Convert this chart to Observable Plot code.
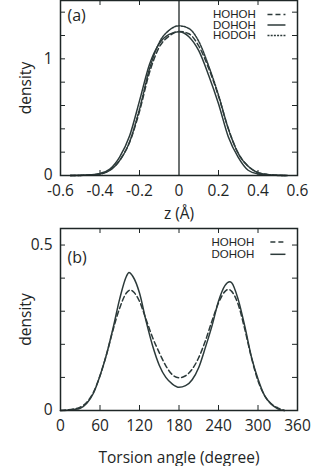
<!DOCTYPE html>
<html><head><meta charset="utf-8">
<script src="https://cdn.jsdelivr.net/npm/d3@7"></script>
<script src="https://cdn.jsdelivr.net/npm/@observablehq/plot@0.6"></script>
<style>
body{margin:0;background:#fff;}
#wrap{position:relative;width:313px;height:466px;overflow:hidden;background:#fff;}
#a{position:absolute;left:0;top:0;}
#b{position:absolute;left:0;top:228px;}
</style></head><body><div id="wrap"><div id="a"></div><div id="b"></div></div>
<script>
// ---------- Panel (a): density vs z ----------
const zValues = [-0.55,-0.5,-0.45,-0.4,-0.35,-0.3,-0.25,-0.2,-0.15,-0.1,-0.05,0,0.05,0.1,0.15,0.2,0.25,0.3,0.35,0.4,0.45,0.5,0.55];
const zHOHOH = [0,0.001,0.004,0.013,0.045,0.13,0.285,0.55,0.88,1.10,1.195,1.235,1.215,1.11,0.92,0.68,0.40,0.19,0.08,0.025,0.008,0.002,0];
const zDOHOH = [0,0.002,0.006,0.018,0.055,0.16,0.34,0.64,0.95,1.13,1.21,1.232,1.19,1.07,0.86,0.615,0.33,0.155,0.045,0.013,0.004,0.001,0];
const zHODOH = [0,0.001,0.004,0.013,0.045,0.13,0.29,0.57,0.91,1.14,1.245,1.283,1.26,1.15,0.94,0.69,0.40,0.19,0.08,0.025,0.008,0.002,0];
const zTickLabels = [-0.6,-0.4,-0.2,0,0.2,0.4,0.6];
const zTickMarks = [-0.4,-0.2,0.2,0.4];
const aDensTicks = [0.2,0.4,0.6,0.8,1.0,1.2,1.4];
const aDensLabels = [0,1];
const aSeries = ["HOHOH","DOHOH","HODOH"];

// ---------- Panel (b): density vs torsion angle ----------
const angHOHOH = [0,10,20,30,40,50,60,70,80,90,100,106,110,120,130,140,150,160,170,180,190,200,210,220,230,240,250,255,260,270,280,290,300,310,320,330,340];
const dHOHOH   = [0,0.002,0.005,0.01,0.025,0.055,0.105,0.17,0.245,0.31,0.355,0.364,0.36,0.33,0.275,0.22,0.175,0.135,0.108,0.099,0.105,0.125,0.16,0.21,0.27,0.325,0.36,0.366,0.36,0.32,0.245,0.16,0.09,0.045,0.02,0.008,0];
const angDOHOH = [0,10,20,30,40,50,60,70,80,90,100,104,110,120,130,140,150,160,170,180,190,200,210,220,230,240,250,257,260,270,280,290,300,310,320,330,340];
const dDOHOH   = [0,0.001,0.003,0.007,0.022,0.052,0.105,0.17,0.25,0.338,0.405,0.417,0.405,0.355,0.27,0.195,0.137,0.10,0.08,0.07,0.075,0.093,0.13,0.19,0.255,0.33,0.378,0.389,0.386,0.335,0.254,0.162,0.095,0.045,0.02,0.005,0];
const angTickLabels = [0,60,120,180,240,300,360];
const angTickMarks = [60,120,180,240,300];
const bDensTicks = [0.1,0.2,0.3,0.4,0.5];
const bDensLabels = [0,0.5];
const bSeries = ["HOHOH","DOHOH"];

const ink = "#1e2626";
const curveColor = "#2c3a3a";
const dashes = {HOHOH: "5,3", DOHOH: null, HODOH: "2,1.2"};

const aData = [];
zValues.forEach((z,i)=>{
  aData.push({s:"HOHOH", z, d:zHOHOH[i]});
  aData.push({s:"DOHOH", z, d:zDOHOH[i]});
  aData.push({s:"HODOH", z, d:zHODOH[i]});
});
const bData = [];
angHOHOH.forEach((a,i)=>bData.push({s:"HOHOH", a, d:dHOHOH[i]}));
angDOHOH.forEach((a,i)=>bData.push({s:"DOHOH", a, d:dDOHOH[i]}));

const fmt = d => d === 0 ? "0" : String(d);
const fmtZ = d => d === 0 ? "0" : d.toFixed(1);

function seriesLines(data, xKey, names) {
  return names.map(n => Plot.line(data.filter(r => r.s === n), {
    x: xKey, y: "d", stroke: curveColor, strokeWidth: 1.5,
    strokeDasharray: dashes[n], curve: "monotone-x"
  }));
}

function legend(names, xText, xa, xb, yTop, yStep) {
  const rows = names.map((n,i)=>({n, y: yTop - i*yStep}));
  return [
    Plot.text(rows, {x: () => xText, y: "y", text: "n", textAnchor: "end",
      fontFamily: "Liberation Sans, Arial, sans-serif", fontSize: 11.5, fill: ink}),
    ...rows.map(r => Plot.link([r], {x1: () => xa, x2: () => xb, y1: "y", y2: "y",
      stroke: curveColor, strokeWidth: 1.5, strokeDasharray: dashes[r.n]}))
  ];
}

const baseStyle = {fontFamily: "Open Sans, sans-serif", fontSize: "15.5px", color: ink, background: "transparent", overflow: "visible"};

// Panel (a)
const W = 313, ML = 60, MR = 16;
const aH = 228, aMT = 0, aMB = 53;
const aFrameH = aH - aMT - aMB, frameW = W - ML - MR, tl = 5;
const plotA = Plot.plot({
  width: W, height: aH, marginLeft: ML, marginRight: MR, marginTop: aMT, marginBottom: aMB,
  x: {domain: [-0.6, 0.6]}, y: {domain: [0, 1.5]},
  style: baseStyle,
  marks: [
    Plot.ruleX(zTickMarks, {insetTop: aFrameH - tl, stroke: ink}),
    Plot.ruleX(zTickMarks, {insetBottom: aFrameH - tl, stroke: ink}),
    Plot.ruleY(aDensTicks, {insetRight: frameW - tl, stroke: ink}),
    Plot.ruleY(aDensTicks, {insetLeft: frameW - tl, stroke: ink}),
    Plot.ruleX([0], {stroke: ink, strokeWidth: 1.3}),
    ...seriesLines(aData, "z", aSeries),
    ...legend(aSeries, 0.389, 0.448, 0.539, 1.38, 0.09),
    Plot.text(["(a)"], {frameAnchor: "top-left", dx: 7, dy: 9, fontSize: 16, fill: ink}),
    Plot.frame({stroke: ink, strokeWidth: 1.5}),
    Plot.axisX(zTickLabels, {tickSize: 0, tickPadding: 9, tickFormat: fmtZ,
      label: "z (Å)", labelAnchor: "center", labelArrow: "none", labelOffset: 43, fill: ink}),
    Plot.axisY(aDensLabels, {tickSize: 0, tickPadding: 8, tickFormat: fmt,
      label: "density", labelAnchor: "center", labelArrow: "none", labelOffset: 41, fill: ink})
  ]
});
document.getElementById("a").appendChild(plotA);

// Panel (b)
const bH = 238, bMT = 0, bMB = 56;
const bFrameH = bH - bMT - bMB;
const plotB = Plot.plot({
  width: W, height: bH, marginLeft: ML, marginRight: MR, marginTop: bMT, marginBottom: bMB,
  x: {domain: [0, 360]}, y: {domain: [0, 0.55]},
  style: baseStyle,
  marks: [
    Plot.ruleX(angTickMarks, {insetTop: bFrameH - tl, stroke: ink}),
    Plot.ruleX(angTickMarks, {insetBottom: bFrameH - tl, stroke: ink}),
    Plot.ruleY(bDensTicks, {insetRight: frameW - tl, stroke: ink}),
    Plot.ruleY(bDensTicks, {insetLeft: frameW - tl, stroke: ink}),
    ...seriesLines(bData, "a", bSeries),
    ...legend(bSeries, 294.4, 318.8, 341.7, 0.509, 0.037),
    Plot.text(["(b)"], {frameAnchor: "top-left", dx: 7, dy: 23, fontSize: 16, fill: ink}),
    Plot.frame({stroke: ink, strokeWidth: 1.5}),
    Plot.axisX(angTickLabels, {tickSize: 0, tickPadding: 9, tickFormat: fmt,
      label: "Torsion angle (degree)", labelAnchor: "center", labelArrow: "none", labelOffset: 52, fill: ink}),
    Plot.axisY(bDensLabels, {tickSize: 0, tickPadding: 8, tickFormat: fmt,
      label: "density", labelAnchor: "center", labelArrow: "none", labelOffset: 41, fill: ink})
  ]
});
document.getElementById("b").appendChild(plotB);
</script>
</body></html>
